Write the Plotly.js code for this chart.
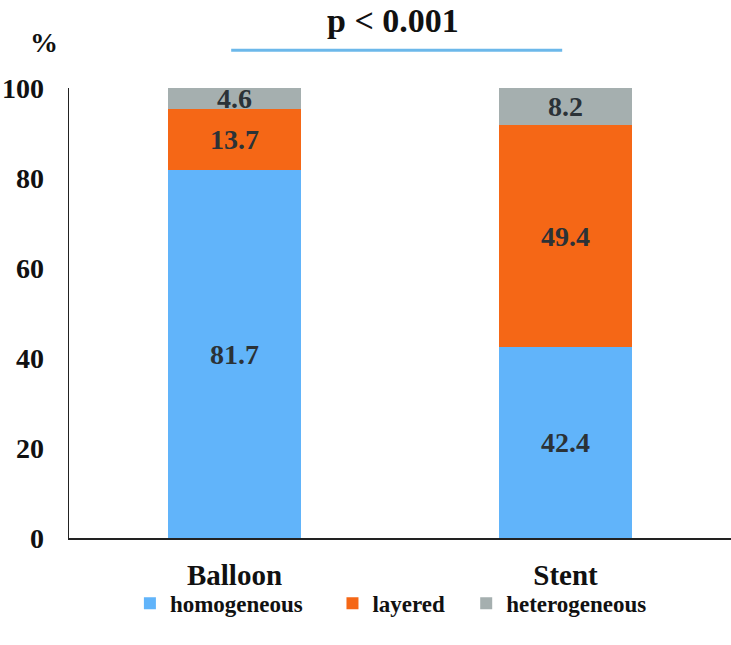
<!DOCTYPE html>
<html><head><meta charset="utf-8">
<script src="https://cdn.plot.ly/plotly-3.0.1.min.js"></script>
<style>html,body{margin:0;padding:0;background:#fff}</style>
</head><body>
<div id="chart" style="width:731px;height:645px"></div>
<script>
const categories = ["Balloon", "Stent"];
const homogeneous = [81.7, 42.4];
const layered = [13.7, 49.4];
const heterogeneous = [4.6, 8.2];
const yTicks = [0, 20, 40, 60, 80, 100];
const pLabel = "p < 0.001";

const FONT = "Liberation Serif, Times New Roman, serif";
const labelFont = {family: FONT, size: 28, color: "#2b3237", weight: 700};

function series(name, vals, color, legendId) {
  return {
    type: "bar", name: name, x: categories, y: vals,
    marker: {color: color, line: {width: 0}},
    width: 0.4, legend: legendId,
    texttemplate: "%{y:.1f}", textposition: "inside",
    insidetextanchor: "middle", textangle: 0,
    textfont: labelFont, hoverinfo: "skip", cliponaxis: false
  };
}

const data = [
  series("homogeneous", homogeneous, "#61b4fa", "legend"),
  series("layered", layered, "#f56716", "legend2"),
  series("heterogeneous", heterogeneous, "#a5afaf", "legend3")
];

function leg(x) {
  return {
    orientation: "h", x: x, xanchor: "left", xref: "paper",
    y: -0.145, yanchor: "middle", bgcolor: "rgba(0,0,0,0)",
    font: {family: FONT, size: 23, color: "#111", weight: 700},
    itemwidth: 30, itemclick: false
  };
}

const layout = {
  width: 731, height: 645,
  margin: {l: 69, r: 0, t: 88, b: 107, pad: 0},
  barmode: "stack",
  paper_bgcolor: "#fff", plot_bgcolor: "#fff",
  uniformtext: {mode: "show", minsize: 28},
  font: {family: FONT, color: "#111", weight: 700},
  xaxis: {
    range: [-0.5, 1.5], showgrid: false, zeroline: false,
    showline: true, linecolor: "#222", linewidth: 1.5,
    ticks: "", ticklabelstandoff: 11,
    tickfont: {family: FONT, size: 29, color: "#111", weight: 700}
  },
  yaxis: {
    range: [0, 100], tickvals: yTicks, ticktext: yTicks.map(String),
    showgrid: false, zeroline: false,
    showline: true, linecolor: "#222", linewidth: 1.5,
    ticks: "", ticklabelstandoff: 18,
    tickfont: {family: FONT, size: 28, color: "#111", weight: 700}
  },
  showlegend: true,
  legend: leg(0.092),
  legend2: leg(0.398),
  legend3: leg(0.600),
  shapes: [{
    type: "line", xref: "x", yref: "paper",
    x0: -0.01, x1: 0.99, y0: 1.084, y1: 1.084,
    line: {color: "#6cb8ea", width: 3}
  }],
  annotations: [
    {text: pLabel, xref: "x", yref: "paper", x: 0.48, y: 1.151, yanchor: "middle",
     showarrow: false, font: {family: FONT, size: 34, color: "#111", weight: 700}},
    {text: "%", xref: "paper", yref: "paper", x: -0.062, y: 1.10, yanchor: "middle",
     showarrow: false, font: {family: FONT, size: 28, color: "#111", weight: 700}}
  ]
};

Plotly.newPlot("chart", data, layout, {displayModeBar: false, staticPlot: true});
</script>
</body></html>
